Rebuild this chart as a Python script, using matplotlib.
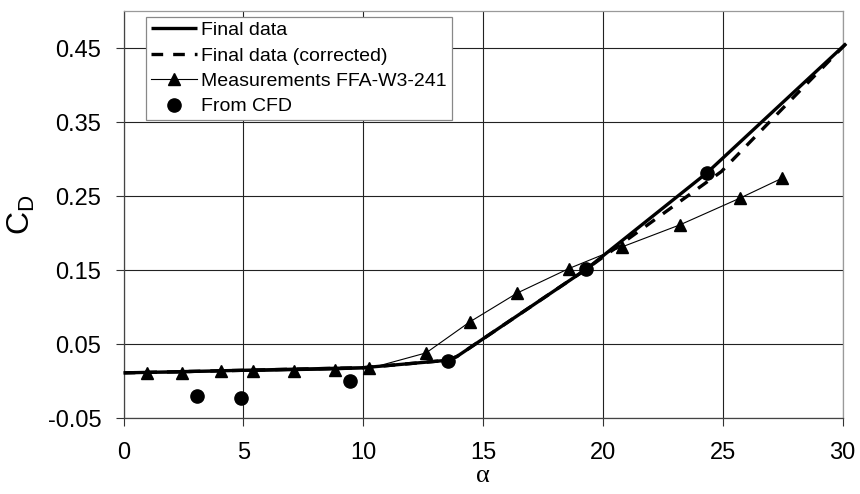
import matplotlib.pyplot as plt
import numpy as np

plt.rcParams['font.family'] = ['Liberation Sans', 'DejaVu Sans']

# Final data (solid)
final_alpha = [0.0, 10.0, 13.5, 13.9, 19.3, 24.33, 30.15]
final_cd = [0.011, 0.018, 0.028, 0.033, 0.151, 0.281, 0.456]

# Final data (corrected, dashed)
corr_alpha = [0.0, 10.0, 13.5, 13.9, 19.3, 24.94, 27.58, 30.15]
corr_cd = [0.011, 0.018, 0.028, 0.033, 0.151, 0.283, 0.371, 0.456]

# Measurements FFA-W3-241
meas_alpha = [0.99, 2.45, 4.07, 5.4, 7.12, 8.8, 10.25, 12.62, 14.45,
              16.43, 18.58, 20.78, 23.21, 25.71, 27.47]
meas_cd = [0.011, 0.011, 0.013, 0.013, 0.014, 0.015, 0.017, 0.038, 0.080,
           0.119, 0.152, 0.181, 0.211, 0.247, 0.274]

# From CFD
cfd_alpha = [3.07, 4.9, 9.43, 13.53, 19.28, 24.33]
cfd_cd = [-0.020, -0.023, 0.000, 0.027, 0.151, 0.281]

xticks = [0, 5, 10, 15, 20, 25, 30]
yticks = [-0.05, 0.05, 0.15, 0.25, 0.35, 0.45]
ytick_labels = ['-0.05', '0.05', '0.15', '0.25', '0.35', '0.45']

fig = plt.figure(figsize=(8.6, 4.94), dpi=100)
ax = fig.add_axes([0.1438, 0.1538, 0.9797 - 0.1438, 0.9777 - 0.1538])

ax.plot(final_alpha, final_cd, color='black', lw=2.4, label='Final data',
        clip_on=False, zorder=4, solid_capstyle='butt')
ax.plot(corr_alpha, corr_cd, color='black', lw=2.4, ls=(0, (3.5, 3)),
        label='Final data (corrected)', clip_on=False, zorder=3)
ax.plot(meas_alpha, meas_cd, color='black', lw=0.8, marker='^', ms=8,
        label='Measurements FFA-W3-241', zorder=5)
ax.plot(cfd_alpha, cfd_cd, color='black', ls='none', marker='o', ms=9.5,
        label='From CFD', zorder=6)

ax.set_xlim(0, 30)
ax.set_ylim(-0.05, 0.5)
ax.set_xticks(xticks)
ax.set_yticks(yticks)
ax.set_yticklabels(ytick_labels)
ax.tick_params(axis='both', direction='out', length=6, width=0.8,
               labelsize=17, color='#333333')
ax.tick_params(axis='x', pad=11)
ax.tick_params(axis='y', pad=10)

ax.grid(True, color='#222222', lw=0.8)
ax.set_axisbelow(True)

for side in ['left', 'bottom']:
    ax.spines[side].set_color('#444444')
    ax.spines[side].set_linewidth(0.9)
for side in ['top', 'right']:
    ax.spines[side].set_color('#9a9a9a')
    ax.spines[side].set_linewidth(0.9)

ax.set_xlabel('α', fontsize=19, family=['Liberation Serif', 'DejaVu Serif'],
              labelpad=1)
ax.set_ylabel(r'C$_\mathregular{D}$', fontsize=23, labelpad=8)

leg = ax.legend(loc='upper left', bbox_to_anchor=(0.031, 0.986), fontsize=14,
                frameon=True, fancybox=False, framealpha=1,
                edgecolor='#888888', handlelength=2.4, handletextpad=0.2,
                borderpad=0.25, labelspacing=0.4, borderaxespad=0)
leg.get_frame().set_linewidth(0.9)

fig.savefig('out.png', dpi=100)
